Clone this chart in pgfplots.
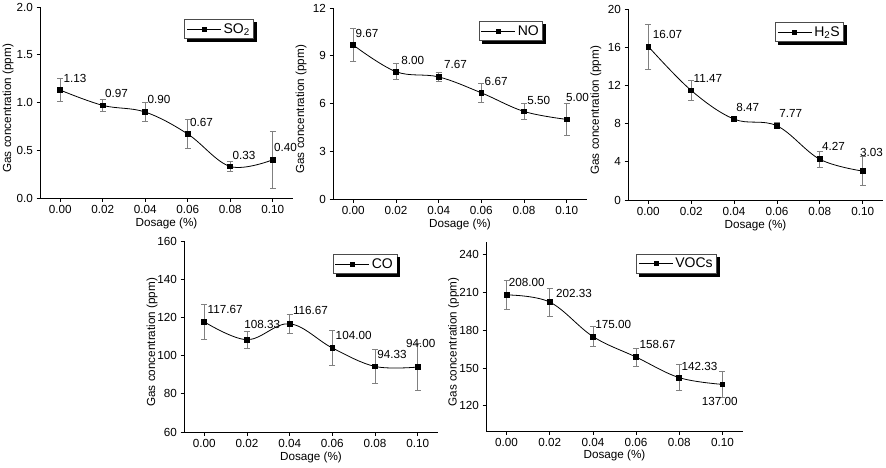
\documentclass[border=0pt]{standalone}
\usepackage{fontspec}
\setmainfont{Liberation Sans}
\usepackage{pgfplots}
\pgfplotsset{compat=1.18}
\usepackage{pgfplotstable}

\pgfplotstableread{
x y e lab dx dy
0.00 1.13 0.12 1.13 3 12
0.02 0.97 0.06 0.97 2 12
0.04 0.90 0.10 0.90 2 13
0.06 0.67 0.15 0.67 2 12
0.08 0.33 0.055 0.33 2 11
0.10 0.40 0.30 0.40 1 12
}\tso
\pgfplotstableread{
x y e lab dx dy
0.00 9.67 1.04 9.67 2 12
0.02 8.00 0.49 8.00 5 11
0.04 7.67 0.31 7.67 5 12
0.06 6.67 0.57 6.67 3 11
0.08 5.50 0.48 5.50 3 11
0.10 5.00 1.00 5.00 -1 22
}\tno
\pgfplotstableread{
x y e lab dx dy
0.00 16.07 2.35 16.07 4 12
0.02 11.47 1.05 11.47 2 12
0.04 8.47 0.15 8.47 2 12
0.06 7.77 0.32 7.77 2 12
0.08 4.27 0.82 4.27 2 13
0.10 3.03 1.53 3.03 -3 19
}\thhs
\pgfplotstableread{
x y e lab dx dy
0.00 117.67 9.4 117.67 3 12
0.02 108.33 4.6 108.33 -3 15
0.04 116.67 4.8 116.67 3 13
0.06 104.00 9.2 104.00 3 12
0.08 94.33 8.7 94.33 2 12
0.10 94.00 12.4 94.00 -12 24
}\tco
\pgfplotstableread{
x y e lab dx dy
0.00 208.00 11.8 208.00 2 12
0.02 202.33 11.2 202.33 6 9
0.04 175.00 8.0 175.00 2 12
0.06 158.67 7.1 158.67 3 13
0.08 142.33 10.2 142.33 2 11
0.10 137.00 10.1 137.00 -21 -17
}\tvoc

\newcommand\labfont{\fontsize{11.7}{13}\selectfont}
\newcommand\legshadow[1]{%
  \fill[black] ([shift={(3pt,-3pt)}]#1.south west) rectangle ([shift={(3pt,0pt)}]#1.south east);
  \fill[black] ([yshift=-3pt]#1.north east) rectangle ([shift={(3pt,-3pt)}]#1.south east);
}

\pgfplotsset{
  gas/.style={
    scale only axis,
    axis lines=left,
    axis line style={-, line width=0.7pt, black},
    xmin=-0.0095, xmax=0.1095,
    xtick={0,0.02,0.04,0.06,0.08,0.1},
    xticklabels={0.00,0.02,0.04,0.06,0.08,0.10},
    tick align=outside,
    major tick length=3.5pt,
    tick style={black, line width=0.7pt},
    tick label style={font=\labfont},
    xlabel={Dosage (\%)},
    ylabel={Gas concentration (ppm)},
    every axis x label/.style={at={(axis description cs:0.5,-0.131)}, anchor=center, font=\labfont},
    every axis y label/.style={at={(axis description cs:-0.126,0.47)}, rotate=90, anchor=center, font=\labfont},
    clip=false,
    legend style={draw=black!70, fill=white, line width=0.6pt,
      font=\fontsize{14}{16}\selectfont, inner xsep=2pt, inner ysep=2pt,
      anchor=north east},
    legend image code/.code={\draw[mark repeat=2, mark phase=2, mark size=2pt] plot coordinates {(0pt,0pt) (17pt,0pt) (34pt,0pt)};},
    nodes near coords,
    point meta=explicit symbolic,
    visualization depends on={\thisrow{dx}\as\dx},
    visualization depends on={\thisrow{dy}\as\dy},
    nodes near coords style={font=\labfont, anchor=west, inner sep=0pt, xshift=\dx pt, yshift=\dy pt, black},
  },
  gasplot/.style={
    black, line width=0.8pt, smooth, tension=0.6,
    mark=square*, mark size=2.4pt, mark options={solid, fill=black},
    error bars/.cd, y dir=both, y explicit,
    error bar style={gray, line width=0.8pt},
    error mark options={rotate=90, mark size=3pt, gray, line width=0.8pt},
  },
}

\begin{document}
\begin{tikzpicture}
\useasboundingbox (0,0) rectangle (886pt,-467pt);

% SO2
\begin{axis}[gas, at={(40pt,-198pt)}, anchor=south west, width=253pt, height=191pt,
  ymin=0, ymax=2, ytick={0,0.5,1,1.5,2}, yticklabels={0.0,0.5,1.0,1.5,2.0},
  legend style={at={(0.846,0.937)}, name=L1}]
\addplot[gasplot] table[x=x, y=y, y error=e, meta=lab] {\tso};
\addlegendentry{SO\textsubscript{2}}
\end{axis}
\legshadow{L1}

% NO
\begin{axis}[gas, at={(333pt,-199pt)}, anchor=south west, width=254pt, height=191pt,
  ymin=0, ymax=12, ytick={0,3,6,9,12}, yticklabels={0,3,6,9,12},
  legend style={at={(0.827,0.932)}, name=L2}]
\addplot[gasplot] table[x=x, y=y, y error=e, meta=lab] {\tno};
\addlegendentry{NO}
\end{axis}
\legshadow{L2}

% H2S
\begin{axis}[gas, at={(628pt,-200pt)}, anchor=south west, width=255pt, height=191pt,
  ymin=0, ymax=20, ytick={0,4,8,12,16,20}, yticklabels={0,4,8,12,16,20},
  legend style={at={(0.847,0.932)}, name=L3}]
\addplot[gasplot] table[x=x, y=y, y error=e, meta=lab] {\thhs};
\addlegendentry{H\textsubscript{2}S}
\end{axis}
\legshadow{L3}

% CO
\begin{axis}[gas, at={(184pt,-432pt)}, anchor=south west, width=254pt, height=191pt,
  ymin=60, ymax=160, ytick={60,80,100,120,140,160}, yticklabels={60,80,100,120,140,160},
  legend style={at={(0.839,0.932)}, name=L4}]
\addplot[gasplot] table[x=x, y=y, y error=e, meta=lab] {\tco};
\addlegendentry{CO}
\end{axis}
\legshadow{L4}

% VOCs
\begin{axis}[gas, at={(486pt,-431pt)}, anchor=south west, width=257pt, height=189pt,
  ymin=100, ymax=250, ytick={120,150,180,210,240}, yticklabels={120,150,180,210,240},
  legend style={at={(0.899,0.937)}, name=L5}]
\addplot[gasplot] table[x=x, y=y, y error=e, meta=lab] {\tvoc};
\addlegendentry{VOCs}
\end{axis}
\legshadow{L5}
\end{tikzpicture}
\end{document}
